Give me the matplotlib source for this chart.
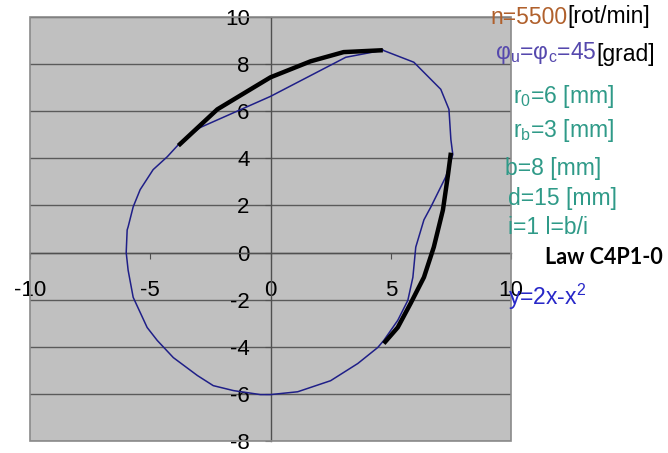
import matplotlib
matplotlib.use("Agg")
import matplotlib.pyplot as plt
import numpy as np

# ---- data ----
profile_x = [4.67, 5.96, 7.08, 7.42, 7.50, 7.58, 7.29, 6.67, 6.38, 6.04, 5.92, 5.71, 5.29, 4.71,
             4.46, 3.63, 2.50, 1.13, 0.00, -0.42, -1.54, -2.38, -3.04, -4.04, -4.71, -5.13,
             -5.42, -5.71, -5.92, -6.00, -5.96, -5.92, -5.71, -5.42, -4.88, -4.29, -3.75,
             -2.92, 0.00, 3.13, 4.67]
profile_y = [8.59, 8.08, 6.93, 6.08, 4.80, 4.16, 3.22, 1.94, 1.39, 0.23, -1.05, -2.03, -2.88, -3.73,
             -4.03, -4.71, -5.44, -5.91, -6.03, -6.03, -5.86, -5.65, -5.22, -4.46, -3.73, -3.18,
             -2.54, -1.90, -0.75, 0.00, 0.96, 1.09, 1.94, 2.67, 3.52, 4.07, 4.67,
             5.31, 6.63, 8.29, 8.59]

law_top_x = [-3.83, -2.21, -0.83, 0.00, 1.67, 3.04, 4.67]
law_top_y = [4.54, 6.08, 6.93, 7.44, 8.12, 8.51, 8.59]

law_right_x = [7.50, 7.38, 7.17, 6.79, 6.38, 5.83, 5.29, 4.71]
law_right_y = [4.24, 3.30, 1.81, 0.23, -1.05, -2.15, -3.18, -3.86]

x_ticks = [-10, -5, 0, 5, 10]
y_ticks = [-8, -6, -4, -2, 0, 2, 4, 6, 8, 10]

plt.rcParams['font.family'] = ['Liberation Sans', 'DejaVu Sans']
plt.rcParams['mathtext.fontset'] = 'custom'
plt.rcParams['mathtext.rm'] = 'Liberation Sans'
plt.rcParams['mathtext.it'] = 'Liberation Sans:italic'
plt.rcParams['mathtext.bf'] = 'Liberation Sans:bold'

W, H = 668, 453
fig = plt.figure(figsize=(W / 100, H / 100), dpi=100)
fig.patch.set_facecolor('white')
ax = fig.add_axes([30 / W, (H - 441) / H, 481 / W, 424 / H])
ax.set_facecolor('#c0c0c0')
ax.set_xlim(-10, 10)
ax.set_ylim(-8, 10)

for v in y_ticks:
    ax.axhline(v, color='#5a5a5a', lw=1.0, zorder=1)

ax.spines['left'].set_position(('data', 0))
ax.spines['bottom'].set_position(('data', 0))
ax.spines['right'].set_visible(False)
ax.spines['top'].set_visible(False)
for s in ('left', 'bottom'):
    ax.spines[s].set_color('#505050')
    ax.spines[s].set_linewidth(1.0)
    ax.spines[s].set_zorder(2)

# plot-area frame
frame = plt.Rectangle((0, 0), 1, 1, transform=ax.transAxes, fill=False,
                      edgecolor='#8a8a8a', lw=1.2, zorder=3, clip_on=False)
ax.add_patch(frame)

ax.set_xticks(x_ticks)
ax.set_yticks(y_ticks)
ax.set_xticklabels([str(v) for v in x_ticks])
ax.set_yticklabels([str(v) for v in y_ticks])
ax.tick_params(axis='x', direction='out', length=4, width=0.8, color='#505050',
               pad=16, labelsize=16)
ax.tick_params(axis='y', direction='out', length=4, width=0.8, color='#505050',
               pad=11, labelsize=16)

ax.plot(profile_x, profile_y, color='#1f1f88', lw=1.1, zorder=4)
ax.plot(law_top_x, law_top_y, color='black', lw=3.2, zorder=5, solid_capstyle='butt')
ax.plot(law_right_x, law_right_y, color='black', lw=3.2, zorder=5, solid_capstyle='butt')

FS = 16.5


def ftext(px, py, s, color, size=FS, **kw):
    return fig.text(px / W, 1 - py / H, s, color=color, fontsize=size,
                    ha='left', va='center', **kw)


teal = '#2f9a88'
t1 = ftext(490, 17, 'n=5500', '#b0602c')
ax.annotate('[rot/min]', xy=(1, 0), xycoords=t1, xytext=(0, 0), textcoords='offset points',
            ha='left', va='bottom', color='black', fontsize=FS, annotation_clip=False)
t2 = ftext(495, 53, r'$\mathregular{φ_u}$=$\mathregular{φ_c}$=45', '#5548ad')
ax.annotate('[grad]', xy=(1, 0), xycoords=t2, xytext=(0, 0), textcoords='offset points',
            ha='left', va='bottom', color='black', fontsize=FS, annotation_clip=False)
ftext(513, 97, r'r$\mathregular{_0}$=6 [mm]', teal)
ftext(513, 131, r'r$\mathregular{_b}$=3 [mm]', teal)
ftext(505, 168, 'b=8 [mm]', teal)
ftext(508, 198, 'd=15 [mm]', teal)
ftext(508, 228, 'i=1 l=b/i', teal)
fig.text(545 / W, 1 - 258 / H, 'Law C4P1-0', color='black', fontsize=15.5,
         ha='left', va='center', family=['Lato', 'DejaVu Sans'], fontweight='bold')
ftext(508, 297, r'y=2x-x$\mathregular{^2}$', '#2828c8')

fig.savefig('out.png', dpi=100)
